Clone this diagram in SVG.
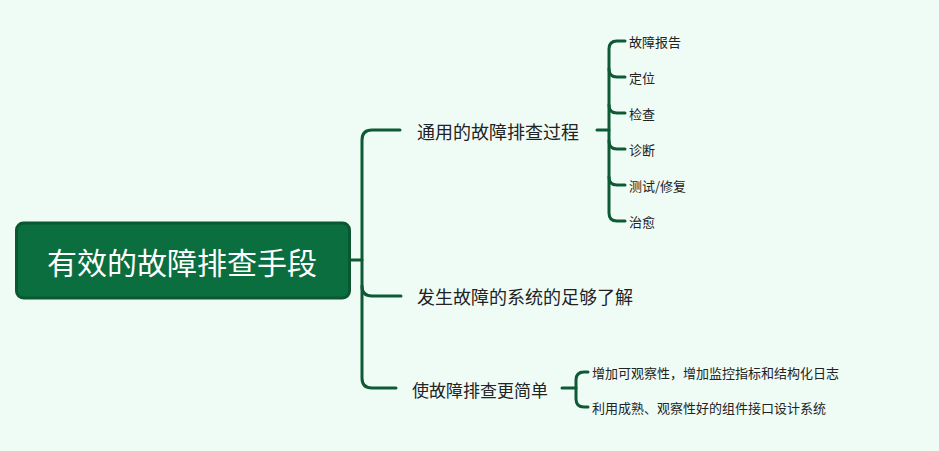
<svg xmlns="http://www.w3.org/2000/svg" width="939" height="451" viewBox="0 0 939 451">
<style>
.c{fill:none;stroke:#0d5a35;stroke-width:3;stroke-linecap:round}
.t{font-family:"Noto Sans CJK SC","Noto Sans",sans-serif;fill:#222;dominant-baseline:central}
.m{font-size:18px}
.s{font-size:13px}
</style>
<rect width="939" height="451" fill="#effcf6"/>
<g id="connectors">
<path class="c" d="M350,260 H362"/>
<path class="c" d="M400,130 H372 Q362,130 362,140 V378 Q362,388 372,388 H396"/>
<path class="c" d="M362,286 Q362,296 372,296 H401"/>
<path class="c" d="M597,130 H609"/>
<path class="c" d="M625,41 H617 Q609,41 609,49 V213 Q609,221 617,221 H625"/>
<path class="c" d="M609,69 Q609,77 617,77 H625"/>
<path class="c" d="M609,105 Q609,113 617,113 H625"/>
<path class="c" d="M609,141 Q609,149 617,149 H625"/>
<path class="c" d="M609,177 Q609,185 617,185 H625"/>
<path class="c" d="M562,388 H576"/>
<path class="c" d="M588,372 H584 Q576,372 576,380 V399 Q576,407 584,407 H588"/>
</g>
<g id="root">
<rect x="16.5" y="223" width="333" height="75" rx="7" fill="#0b6e3f" stroke="#0b5732" stroke-width="3"/>
<text x="182" y="261" text-anchor="middle" font-family="Noto Sans CJK SC,Noto Sans,sans-serif" font-size="30" fill="#fff" dominant-baseline="central">有效的故障排查手段</text>
</g>
<g id="n1"><text class="t m" x="417" y="131">通用的故障排查过程</text></g>
<g id="n2"><text class="t m" x="417" y="296">发生故障的系统的足够了解</text></g>
<g id="n3"><text class="t m" x="412" y="389" style="font-size:17px">使故障排查更简单</text></g>
<g id="n1a"><text class="t s" x="629" y="41">故障报告</text></g>
<g id="n1b"><text class="t s" x="629" y="77">定位</text></g>
<g id="n1c"><text class="t s" x="629" y="113">检查</text></g>
<g id="n1d"><text class="t s" x="629" y="149">诊断</text></g>
<g id="n1e"><text class="t s" x="629" y="185">测试/修复</text></g>
<g id="n1f"><text class="t s" x="629" y="221">治愈</text></g>
<g id="n3a"><text class="t s" x="592" y="372">增加可观察性，增加监控指标和结构化日志</text></g>
<g id="n3b"><text class="t s" x="592" y="407">利用成熟、观察性好的组件接口设计系统</text></g>
</svg>
